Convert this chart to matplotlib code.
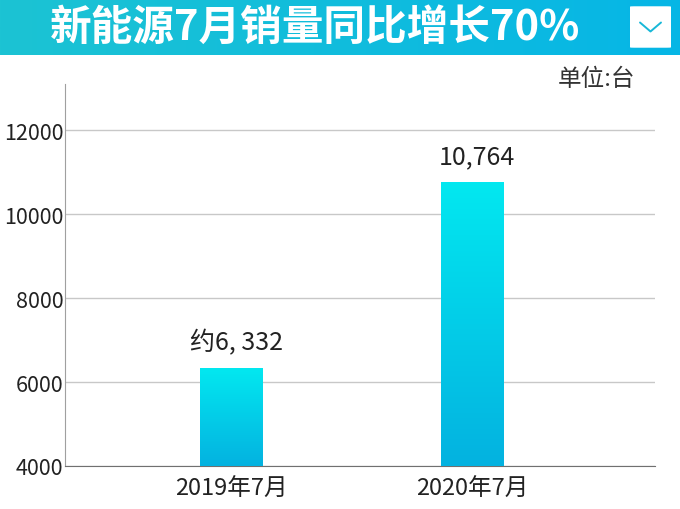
import matplotlib
matplotlib.use("Agg")
import matplotlib.pyplot as plt
import numpy as np
from matplotlib.patches import FancyBboxPatch

plt.rcParams["font.family"] = ["Noto Sans CJK SC", "DejaVu Sans"]

# data
categories = ["2019年7月", "2020年7月"]
sales = [6332, 10764]
value_labels = ["约6, 332", "10,764"]
yticks = [4000, 6000, 8000, 10000, 12000]
title = "新能源7月销量同比增长70%"
unit = "单位:台"


def gradient_bars(ax, bars, top_color, bottom_color):
    cmap = matplotlib.colors.LinearSegmentedColormap.from_list(
        "bar", [bottom_color, top_color]
    )
    grad = np.linspace(0, 1, 256).reshape(-1, 1)
    for bar in bars:
        x0, y0 = bar.get_x(), bar.get_y()
        w, h = bar.get_width(), bar.get_height()
        bar.set_facecolor("none")
        bar.set_edgecolor("none")
        im = ax.imshow(
            grad,
            extent=[x0, x0 + w, y0, y0 + h],
            origin="lower",
            cmap=cmap,
            aspect="auto",
            zorder=3,
        )
        im.set_clip_path(bar)


fig = plt.figure(figsize=(6.8, 5.1), dpi=100)

# header banner
banner = fig.add_axes([0, 1 - 56 / 510, 1, 56 / 510])
hgrad = np.linspace(0, 1, 256).reshape(1, -1)
bcmap = matplotlib.colors.LinearSegmentedColormap.from_list(
    "banner", ["#1cc3d3", "#06b6e6"]
)
banner.imshow(hgrad, cmap=bcmap, aspect="auto", extent=[0, 1, 0, 1])
banner.set_xlim(0, 1)
banner.set_ylim(0, 1)
banner.axis("off")
banner.text(
    0.463, 0.5, title, color="white", fontsize=30, fontweight="bold",
    ha="center", va="center",
)
box = FancyBboxPatch(
    (630 / 680, 0.13), 41 / 680, 0.74,
    boxstyle="round,pad=0,rounding_size=0.006",
    facecolor="white", edgecolor="none", transform=banner.transAxes,
)
banner.add_patch(box)
banner.plot(
    [640 / 680, 650.5 / 680, 661 / 680], [0.58, 0.42, 0.58],
    color="#18b8d8", lw=1.4, solid_capstyle="round",
)

base = yticks[0]
ax = fig.add_axes([65 / 680, 43 / 510, 590 / 680, 382 / 510])
x = np.arange(len(categories))
bars = ax.bar(x, [v - base for v in sales], width=0.26, bottom=base, zorder=3)
gradient_bars(ax, bars, "#02e8f0", "#04b2e0")

ax.set_xlim(-0.69, 1.757)
ax.set_ylim(base, 13100)
ax.set_yticks(yticks)
ax.set_yticklabels([str(t) for t in yticks], fontsize=15.5, color="#222222")
ax.set_xticks(x)
ax.set_xticklabels(categories, fontsize=17, color="#222222")
ax.tick_params(axis="y", length=0, pad=1)
ax.tick_params(axis="x", length=0, pad=8)
ax.grid(axis="y", color="#c8c8c8", lw=1, zorder=0)
ax.set_axisbelow(True)
for side in ["top", "right"]:
    ax.spines[side].set_visible(False)
ax.spines["left"].set_color("#a0a0a0")
ax.spines["bottom"].set_color("#707070")

for xi, v, lab in zip(x, sales, value_labels):
    ax.text(xi + 0.02, v + 300, lab, fontsize=18, color="#222222",
            ha="center", va="bottom")

fig.text(635 / 680, 1 - 80 / 510, unit, fontsize=17, color="#333333",
         ha="right", va="center")

fig.savefig("out.png", dpi=100)
